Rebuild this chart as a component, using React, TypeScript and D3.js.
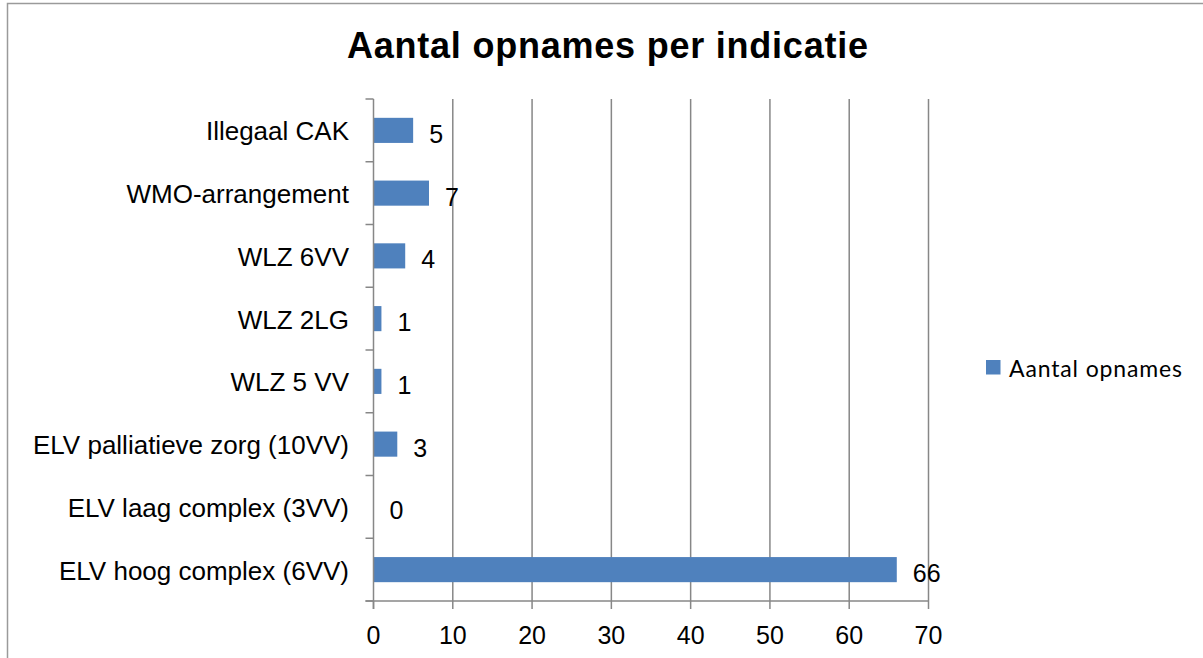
import React, { useEffect, useRef } from 'react';
import * as d3 from 'd3';

const categories = [
  'Illegaal CAK',
  'WMO-arrangement',
  'WLZ 6VV',
  'WLZ 2LG',
  'WLZ 5 VV',
  'ELV palliatieve zorg (10VV)',
  'ELV laag complex (3VV)',
  'ELV hoog complex (6VV)',
];
const values = [5, 7, 4, 1, 1, 3, 0, 66];
const xTicks = [0, 10, 20, 30, 40, 50, 60, 70];
const seriesName = 'Aantal opnames';
const title = 'Aantal opnames per indicatie';

const App = () => {
  const svgRef = useRef<SVGSVGElement>(null);

  useEffect(() => {
    const width = 1203;
    const height = 658;
    const left = 373.5;
    const right = 928.5;
    const top = 99;
    const bottom = 601;
    const grid = '#878787';
    const barColor = '#4F81BD';
    const font = "'Liberation Sans', Arial, sans-serif";

    const svg = d3.select(svgRef.current);
    svg.selectAll('*').remove();

    // chart border
    svg.append('rect')
      .attr('x', 7.5)
      .attr('y', 3.5)
      .attr('width', width + 20)
      .attr('height', height + 20)
      .attr('fill', 'white')
      .attr('stroke', '#9a9a9a')
      .attr('stroke-width', 1.5);

    svg.append('text')
      .attr('x', 347)
      .attr('y', 58)
      .attr('font-family', font)
      .attr('font-weight', 'bold')
      .attr('font-size', 36)
      .attr('textLength', 521)
      .attr('lengthAdjust', 'spacing')
      .text(title);

    const x = d3.scaleLinear().domain([0, 70]).range([left, right]);
    const y = d3.scaleBand().domain(categories).range([top, bottom]).paddingInner(0.6).paddingOuter(0.3);
    const yb = d3.scaleBand().domain(categories).range([top, bottom]);

    // vertical gridlines
    svg.append('g')
      .selectAll('line')
      .data(xTicks.slice(1))
      .enter()
      .append('line')
      .attr('x1', (d) => x(d))
      .attr('x2', (d) => x(d))
      .attr('y1', top)
      .attr('y2', bottom)
      .attr('stroke', grid)
      .attr('stroke-width', 1.5);

    // bars
    svg.append('g')
      .selectAll('rect')
      .data(values)
      .enter()
      .append('rect')
      .attr('x', x(0))
      .attr('y', (d, i) => y(categories[i])!)
      .attr('width', (d) => x(d) - x(0))
      .attr('height', y.bandwidth())
      .attr('fill', barColor);

    // value labels
    svg.append('g')
      .selectAll('text')
      .data(values)
      .enter()
      .append('text')
      .attr('x', (d) => x(d) + 16)
      .attr('y', (d, i) => y(categories[i])! + y.bandwidth() / 2 + 12.5)
      .attr('font-family', font)
      .attr('font-size', 25)
      .text((d) => d);

    // y axis
    const axisG = svg.append('g');
    axisG.append('line')
      .attr('x1', left).attr('x2', left)
      .attr('y1', top).attr('y2', bottom + 8)
      .attr('stroke', grid).attr('stroke-width', 1.5);
    axisG.selectAll('.ytick')
      .data([...categories.map((c) => yb(c)!), bottom])
      .enter()
      .append('line')
      .attr('x1', left - 8).attr('x2', left)
      .attr('y1', (d) => d).attr('y2', (d) => d)
      .attr('stroke', grid).attr('stroke-width', 1.5);
    axisG.selectAll('.ylabel')
      .data(categories)
      .enter()
      .append('text')
      .attr('x', 349)
      .attr('y', (d) => yb(d)! + yb.bandwidth() / 2 + 10)
      .attr('text-anchor', 'end')
      .attr('font-family', font)
      .attr('font-size', 26)
      .text((d) => d);

    // x axis
    axisG.append('line')
      .attr('x1', left - 8).attr('x2', right)
      .attr('y1', bottom).attr('y2', bottom)
      .attr('stroke', grid).attr('stroke-width', 1.5);
    axisG.selectAll('.xtick')
      .data(xTicks)
      .enter()
      .append('line')
      .attr('x1', (d) => x(d)).attr('x2', (d) => x(d))
      .attr('y1', bottom).attr('y2', bottom + 8)
      .attr('stroke', grid).attr('stroke-width', 1.5);
    axisG.selectAll('.xlabel')
      .data(xTicks)
      .enter()
      .append('text')
      .attr('x', (d) => x(d))
      .attr('y', 643.5)
      .attr('text-anchor', 'middle')
      .attr('font-family', font)
      .attr('font-size', 25)
      .text((d) => d);

    // legend
    svg.append('rect')
      .attr('x', 986).attr('y', 360)
      .attr('width', 14.5).attr('height', 14.5)
      .attr('fill', barColor);
    svg.append('text')
      .attr('x', 1009)
      .attr('y', 376.5)
      .attr('font-family', 'Lato, Carlito, sans-serif')
      .attr('font-size', 23)
      .attr('textLength', 173)
      .attr('lengthAdjust', 'spacing')
      .text(seriesName);
  }, []);

  return (
    <svg ref={svgRef} width={1203} height={658}
      style={{ position: 'absolute', left: 0, top: 0, display: 'block' }} />
  );
};

export default App;
